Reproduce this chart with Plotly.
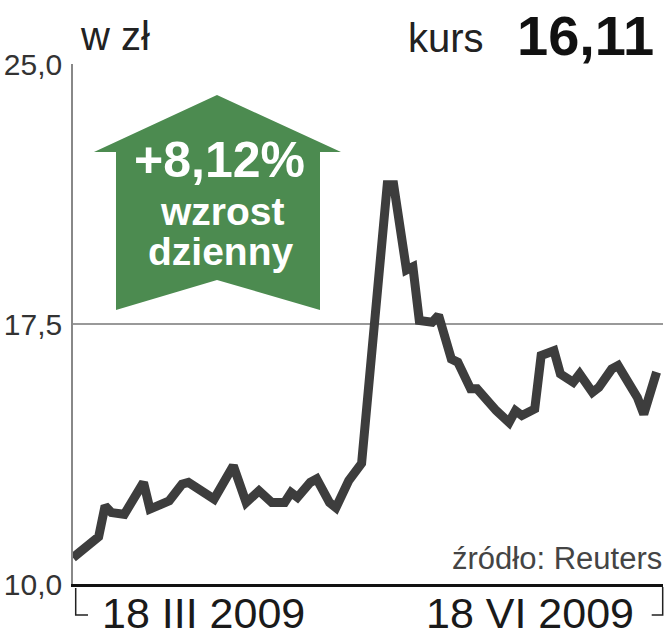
import plotly.graph_objects as go

# ---- data ----
dates = [
    "2009-03-18", "2009-03-20", "2009-03-21", "2009-03-22", "2009-03-23", "2009-03-24",
    "2009-03-26", "2009-03-29", "2009-03-30", "2009-04-02", "2009-04-04", "2009-04-05",
    "2009-04-09", "2009-04-12", "2009-04-14", "2009-04-16", "2009-04-18", "2009-04-20",
    "2009-04-21", "2009-04-22", "2009-04-24", "2009-04-25", "2009-04-27", "2009-04-28",
    "2009-04-30", "2009-05-02", "2009-05-06", "2009-05-07", "2009-05-09",
    "2009-05-10", "2009-05-11", "2009-05-13", "2009-05-14", "2009-05-16", "2009-05-17",
    "2009-05-19", "2009-05-20", "2009-05-22", "2009-05-23", "2009-05-25", "2009-05-26",
    "2009-05-27", "2009-05-29", "2009-05-30", "2009-06-01", "2009-06-02", "2009-06-04",
    "2009-06-05", "2009-06-07", "2009-06-08", "2009-06-10", "2009-06-11", "2009-06-14",
    "2009-06-15", "2009-06-17",
]
prices = [
    10.76, 11.10, 11.26, 11.36, 12.25, 12.06, 12.01, 12.93, 12.16, 12.40,
    12.88, 12.93, 12.45, 13.41, 12.35, 12.69, 12.35, 12.35, 12.64, 12.50,
    12.93, 13.03, 12.35, 12.20, 12.98, 13.48, 21.52, 21.52, 19.06,
    19.15, 17.60, 17.55, 17.75, 16.49, 16.40, 15.63, 15.63, 15.14, 15.00,
    14.66, 15.00, 14.86, 15.05, 16.59, 16.73, 16.06, 15.82, 16.06, 15.53,
    15.67, 16.20, 16.30, 15.38, 14.90, 16.11,
]
y_ticks = [10.0, 17.5, 25.0]
y_tick_labels = ["10,0", "17,5", "25,0"]
x_range = ["2009-03-18", "2009-06-18"]
x_labels = ["18 III 2009", "18 VI 2009"]
last_price = "16,11"
change_text = "+8,12%"

# ---- layout geometry (pixels) ----
W, H = 667, 640
L, R, T, B = 73, 4, 64, 56
PW, PH = W - L - R, H - T - B


def px(x):
    return (x - L) / PW


def py(y):
    return (H - B - y) / PH


FONT = "Liberation Sans, Arial, sans-serif"

fig = go.Figure()
fig.add_trace(go.Scatter(
    x=dates, y=prices, mode="lines",
    line=dict(color="#3d3d3d", width=9),
    hoverinfo="skip", showlegend=False,
))

# green arrow
arrow_pts = [(217, 95), (341, 152), (320, 152), (320, 310), (217, 280),
             (116, 310), (116, 152), (94, 152)]
path = "M " + " L ".join(f"{px(a):.5f},{py(b):.5f}" for a, b in arrow_pts) + " Z"
shapes = [dict(type="path", xref="paper", yref="paper", path=path,
               fillcolor="#4c8b50", line=dict(width=0), layer="below")]

# bracket marks below the axis
for pts in ([(75.7, 588), (75.7, 615), (88, 615)],
            [(651.7, 615), (662.7, 615), (662.7, 587)]):
    p = "M " + " L ".join(f"{px(a):.5f},{py(b):.5f}" for a, b in pts)
    shapes.append(dict(type="path", xref="paper", yref="paper", path=p,
                       line=dict(color="#222", width=1.5)))

ann = []


def add(text, x, y, size, anchor="center", bold=False, color="#222"):
    ann.append(dict(
        text=f"<b>{text}</b>" if bold else text,
        x=px(x), y=py(y), xref="paper", yref="paper",
        xanchor=anchor, yanchor="middle", showarrow=False,
        font=dict(family=FONT, size=size, color=color),
    ))


add("w zł", 78, 36, 40, "left")
add("kurs", 486, 38, 40, "right")
add(last_price, 656, 36, 56, "right", bold=True, color="#111")
add(change_text, 219, 160, 50, bold=True, color="white")
add("wzrost", 222, 211, 39, bold=True, color="white")
add("dzienny", 220, 251, 39, bold=True, color="white")
add("źródło: Reuters", 664, 558, 31, "right", color="#444")
add(x_labels[0], 100, 613, 43, "left", color="#1a1a1a")
add(x_labels[1], 636, 613, 43, "right", color="#1a1a1a")

fig.update_layout(
    width=W, height=H,
    margin=dict(l=L, r=R, t=T, b=B, pad=0, autoexpand=False),
    paper_bgcolor="white", plot_bgcolor="white",
    showlegend=False,
    shapes=shapes, annotations=ann,
    xaxis=dict(range=x_range, type="date", showticklabels=False, showgrid=False,
               zeroline=False, showline=True, linecolor="#111", linewidth=3,
               ticks="", automargin=False),
    yaxis=dict(range=[10, 25], tickvals=y_ticks, ticktext=y_tick_labels,
               showgrid=True, gridcolor="#999", gridwidth=1.5, zeroline=False,
               showline=True, linecolor="#888", linewidth=1.5, ticks="",
               ticklabelstandoff=3, automargin=False,
               tickfont=dict(family=FONT, size=30, color="#333")),
)

fig.write_html("out.html", config={"displayModeBar": False},
               post_script="document.body.style.margin='0';")
